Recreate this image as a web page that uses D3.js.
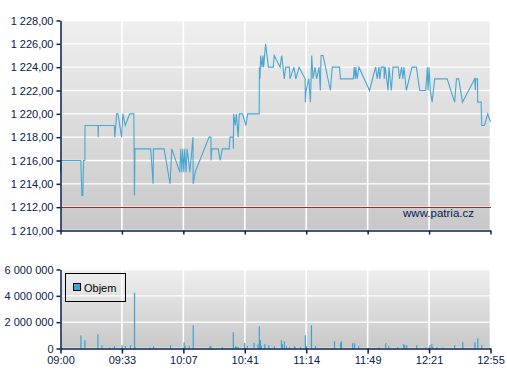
<!DOCTYPE html>
<html>
<head>
<meta charset="utf-8">
<script src="https://cdn.jsdelivr.net/npm/d3@7"></script>
<style>
  html, body { margin: 0; padding: 0; background: #ffffff; }
  svg { display: block; font-family: "Liberation Sans", Arial, sans-serif; }
</style>
</head>
<body>
<svg id="chart" width="507" height="380"></svg>
<script>
// ---------- DATA ----------
// minutes after 09:00
const priceTimes = [0.0,0.3,11.1,11.7,12.2,12.6,13.3,13.4,20.5,20.6,20.7,29.4,29.7,30.7,31.4,33.4,34.1,35.4,37.8,40.1,40.4,40.7,49.3,50.6,50.8,56.6,59.9,60.8,65.2,65.7,66.3,66.8,67.4,67.9,68.6,69.2,70.7,72.4,72.5,73.6,81.2,82.2,82.3,82.7,86.2,87.3,88.4,92.2,92.6,94.4,94.5,94.6,95.5,96.1,97.1,97.7,99.5,101.3,102.3,108.6,108.7,109.0,109.4,110.1,110.7,111.0,112.1,113.6,116.3,116.8,120.0,120.9,122.3,123.1,125.1,125.4,127.6,128.6,130.4,133.7,133.8,134.2,135.7,136.6,137.3,138.0,139.1,140.0,141.3,142.0,142.4,143.5,147.5,148.5,152.5,153.0,160.0,160.5,161.1,161.4,162.1,163.1,168.9,172.2,173.1,174.0,174.5,175.3,176.8,176.9,177.5,179.0,179.5,180.8,181.7,184.6,185.3,186.4,187.1,187.7,189.0,192.1,194.5,196.3,199.6,200.5,200.9,201.4,202.1,203.1,204.5,211.3,215.4,216.4,217.6,219.7,226.4,226.7,227.0,227.9,228.0,229.9,230.2,231.7,233.5,235.0];
const priceValues = [1215,1216,1216,1213,1213,1216,1216,1219,1219,1218,1219,1219,1218,1220,1220,1218,1220,1219,1220,1220,1213,1217,1217,1214,1217,1217,1214,1217,1215,1217,1215,1217,1215,1217,1215,1217,1215,1218,1214,1215,1218,1218,1216,1217,1217,1216,1217,1217,1218,1218,1217,1220,1219,1220,1218,1220,1220,1219,1220,1220,1224,1223,1225,1224,1225,1224,1226,1224,1224,1225,1224,1225,1223,1224,1224,1223,1224,1223,1224,1223,1221,1222,1223,1221,1225,1223,1224,1223,1224,1222,1225,1225,1222,1224,1224,1223,1223,1224,1223,1224,1223,1224,1222,1224,1223,1224,1223,1224,1224,1223,1224,1222,1224,1222,1224,1224,1223,1224,1223,1224,1222,1224,1224,1222,1222,1224,1222,1224,1222,1221,1223,1223,1221,1223,1223,1221,1223,1222,1223,1223,1221,1221,1219,1219,1220,1219.3];

const volumeTimes = [11.1,13.3,20.4,22.6,26.7,29.4,33.6,35.4,38.2,40.4,40.9,48.9,50.8,60.1,67.5,68.1,70.3,72.5,81.6,82.2,88.4,94.4,95.5,96.2,97.0,100.6,102.1,105.7,107.9,108.6,109.2,109.7,111.6,113.8,116.8,120.7,121.2,122.3,123.4,125.1,127.8,128.3,131.1,133.8,134.4,137.1,139.3,149.7,153.0,153.5,159.6,160.7,162.9,174.0,177.7,179.3,184.2,187.5,188.1,189.2,194.6,199.6,201.8,202.9,203.4,205.6,208.9,215.4,219.8,226.4,228.0,230.2];
const volumeValues = [1000000,630000,1080000,250000,80000,180000,250000,180000,250000,4240000,100000,80000,180000,250000,480000,180000,180000,1760000,180000,180000,100000,1230000,180000,120000,120000,430000,180000,430000,300000,1690000,630000,230000,330000,250000,180000,630000,330000,550000,180000,100000,180000,80000,100000,1000000,180000,1760000,180000,550000,430000,550000,400000,400000,180000,100000,400000,180000,100000,330000,250000,250000,250000,100000,250000,330000,100000,100000,100000,250000,480000,480000,780000,250000];

const timeTickLabels = ["09:00","09:33","10:07","10:41","11:14","11:49","12:21","12:55"];
const priceTicks = [1210,1212,1214,1216,1218,1220,1222,1224,1226,1228];
const volumeTicks = [0,2000000,4000000,6000000];
const referencePrice = 1212;
const sessionMinutes = 235;
const legendLabel = "Objem";
const watermark = "www.patria.cz";

// ---------- DRAW ----------
const svg = d3.select("#chart");
const navy = "#08204e";
const lineColor = "#4aa6d2";
const barColor = "#3ea2d0";

const loc = d3.formatLocale({decimal: ",", thousands: " ", grouping: [3], currency: ["", ""]});
const fmtPrice = loc.format(",.2f");
const fmtVol = loc.format(",d");

const defs = svg.append("defs");
const grad = defs.append("linearGradient").attr("id", "bg").attr("x1", 0).attr("y1", 0).attr("x2", 0).attr("y2", 1);
grad.append("stop").attr("offset", "0%").attr("stop-color", "#efefef");
grad.append("stop").attr("offset", "100%").attr("stop-color", "#c8c8c8");

const x = d3.scaleLinear().domain([0, sessionMinutes]).range([60.5, 490.5]);
const xTickVals = timeTickLabels.map((d, i) => i * sessionMinutes / (timeTickLabels.length - 1));

const yP = d3.scaleLinear().domain([1210, 1228]).range([230.5, 20.5]);
const yV = d3.scaleLinear().domain([0, 6000000]).range([348.5, 269.5]);

function panel(yScale, ticks) {
  const g = svg.append("g");
  const [y0, y1] = yScale.range();
  g.append("rect").attr("x", x.range()[0]).attr("y", y1)
    .attr("width", x.range()[1] - x.range()[0]).attr("height", y0 - y1)
    .attr("fill", "url(#bg)");
  g.append("g").selectAll("line").data(ticks).join("line")
    .attr("x1", x.range()[0]).attr("x2", x.range()[1])
    .attr("y1", d => yScale(d)).attr("y2", d => yScale(d))
    .attr("stroke", "#ffffff").attr("stroke-width", 1.3);
  g.append("g").selectAll("line").data(xTickVals).join("line")
    .attr("x1", d => x(d)).attr("x2", d => x(d))
    .attr("y1", y1).attr("y2", y0)
    .attr("stroke", "#ffffff").attr("stroke-width", 1.6);
  return g;
}

// ----- price panel -----
const gp = panel(yP, priceTicks);

const refY = Math.round(yP(referencePrice) - 0.5) + 0.5;
gp.append("line")
  .attr("x1", x.range()[0]).attr("x2", x.range()[1])
  .attr("y1", refY).attr("y2", refY)
  .attr("stroke", "#a82828").attr("stroke-width", 1)
  .attr("shape-rendering", "crispEdges");

gp.append("text").attr("x", 474).attr("y", yP(referencePrice) + 10)
  .attr("text-anchor", "end").attr("font-size", 11.5).attr("fill", navy)
  .text(watermark);

const line = d3.line().x((d, i) => x(priceTimes[i])).y(d => yP(d));
gp.append("path").datum(priceValues)
  .attr("d", line).attr("fill", "none")
  .attr("stroke", lineColor).attr("stroke-width", 1.1)
  .attr("stroke-linejoin", "miter");

const axP = d3.axisLeft(yP).tickValues(priceTicks).tickFormat(fmtPrice).tickSize(4).tickSizeOuter(0).tickPadding(3);
const gax = svg.append("g").attr("transform", `translate(${x.range()[0]},0)`).call(axP);
const axPB = d3.axisBottom(x).tickValues(xTickVals).tickFormat("").tickSize(4).tickSizeOuter(0);
const gaxb = svg.append("g").attr("transform", `translate(0,${yP.range()[0]})`).call(axPB);

// ----- volume panel -----
const gv = panel(yV, volumeTicks);
gv.append("g").selectAll("rect").data(volumeValues).join("rect")
  .attr("x", (d, i) => x(volumeTimes[i]) - 0.5)
  .attr("width", 1.2)
  .attr("y", d => yV(d))
  .attr("height", d => yV(0) - yV(d))
  .attr("fill", barColor);

const axV = d3.axisLeft(yV).tickValues(volumeTicks).tickFormat(fmtVol).tickSize(4).tickSizeOuter(0).tickPadding(3);
const gaxv = svg.append("g").attr("transform", `translate(${x.range()[0]},0)`).call(axV);
const axVB = d3.axisBottom(x).tickValues(xTickVals).tickFormat((d, i) => timeTickLabels[i]).tickSize(5).tickSizeOuter(0).tickPadding(3);
const gaxvb = svg.append("g").attr("transform", `translate(0,${yV.range()[0]})`).call(axVB);

[gax, gaxb, gaxv, gaxvb].forEach(g => {
  g.selectAll("path.domain").attr("stroke", navy).attr("stroke-width", 1.5);
  g.selectAll(".tick line").attr("stroke", navy).attr("stroke-width", 1.5);
  g.selectAll(".tick text").attr("fill", navy).attr("font-size", 11)
    .attr("font-family", "'Liberation Sans', Arial, sans-serif");
});

// legend
const lg = svg.append("g");
lg.append("rect").attr("x", 65.5).attr("y", 273.5).attr("width", 60).attr("height", 28)
  .attr("fill", "none").attr("stroke", "#000000").attr("stroke-width", 1);
lg.append("rect").attr("x", 73.5).attr("y", 283.5).attr("width", 7).attr("height", 7)
  .attr("fill", barColor).attr("stroke", "#000000").attr("stroke-width", 1);
lg.append("text").attr("x", 84).attr("y", 291.5).attr("font-size", 11).attr("fill", "#000000")
  .text(legendLabel);
</script>
</body>
</html>
